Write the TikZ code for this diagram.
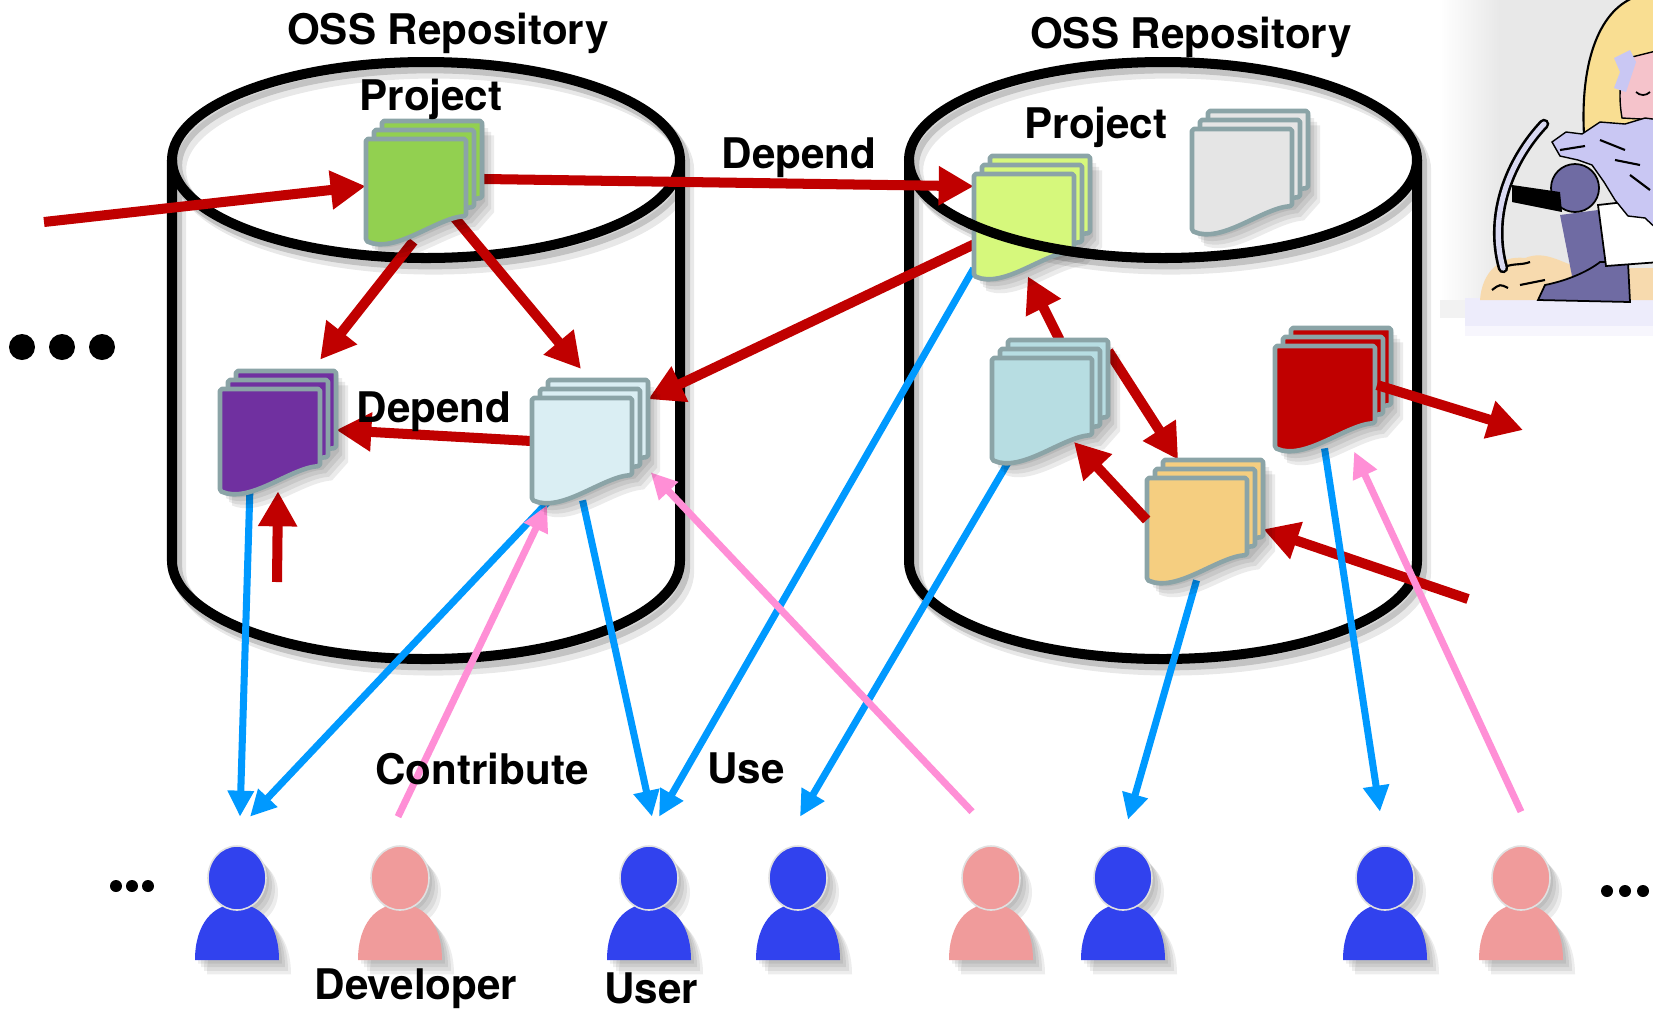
\documentclass[tikz,border=0pt]{standalone}
\usepackage{fontspec}
\setmainfont{TeX Gyre Heros}
\usetikzlibrary{arrows.meta,calc,fadings}

\definecolor{arrred}{HTML}{C00000}
\definecolor{arrblue}{HTML}{0099FF}
\definecolor{arrpink}{HTML}{FF8FD6}
\definecolor{pageedge}{HTML}{8BA4A7}
\definecolor{pgreen}{HTML}{92D050}
\definecolor{ppurple}{HTML}{7030A0}
\definecolor{pice}{HTML}{DAEEF3}
\definecolor{plime}{HTML}{D6F87C}
\definecolor{pgray}{HTML}{E5E5E5}
\definecolor{pteal}{HTML}{B7DDE2}
\definecolor{porange}{HTML}{F5CE80}
\definecolor{pred}{HTML}{C00000}
\definecolor{userblue}{HTML}{3142EE}
\definecolor{devpink}{HTML}{F09B9B}
\definecolor{sand}{HTML}{F7DAAE}
\definecolor{ground}{HTML}{D6D4F6}
\definecolor{sleeve}{HTML}{6F6BA3}
\definecolor{hood}{HTML}{F9DE92}
\definecolor{face}{HTML}{F5C3CB}
\definecolor{fur}{HTML}{C9C7F3}
\definecolor{pick}{HTML}{D9D9F2}

\tikzfading[name=fade in right, left color=transparent!100, right color=transparent!0]

\tikzset{
  redarr/.style={draw=arrred, line width=5.7pt, -{Triangle[length=0.7cm,width=0.74cm]}},
  bluearr/.style={draw=arrblue, line width=4pt, -{Triangle[length=0.52cm,width=0.5cm]}},
  pinkarr/.style={draw=arrpink, line width=4pt, -{Triangle[length=0.52cm,width=0.5cm]}},
  cyl/.style={draw=black, line width=5.7pt},
  tag/.style={font=\bfseries\fontsize{24}{28}\selectfont, inner sep=0pt},
  stackbox/.style={minimum width=2.32cm, minimum height=2.4cm, inner sep=0pt},
  userbox/.style={minimum width=1.72cm, minimum height=2.32cm, inner sep=0pt},
  page/.style={draw=pageedge, line width=2.6pt, line join=round, rounded corners=1pt},
  pics/pages/.style={code={
    \foreach \s in {3,6,9,12}
      \fill[black, opacity=0.08, shift={(\s,1.2*\s)}] (-58,60) -- (-58,-42) -- (-50,-42) -- (-50,-51) -- (-42,-51) -- (-42,-60) -- (58,-60) -- (58,17) -- (50,26) -- (42,35) .. controls (12,37) and (-28,73) .. (-58,60) -- cycle;
    \foreach \dx/\dy in {8/-9,0/0,-8/9}
      \filldraw[page, fill=#1, shift={(\dx,\dy)}] (-50,-51) -- (50,-51) -- (50,26) .. controls (20,28) and (-20,64) .. (-50,51) -- cycle;
  }},
  pics/person/.style={code={
    \foreach \s in {3,6,9,12}
      \fill[black, opacity=0.07, shift={(\s,1.2*\s)}] (-42,58) .. controls (-42,22) and (-24,2) .. (0,2) .. controls (24,2) and (42,22) .. (42,58) -- cycle (0,-24) ellipse [x radius=29, y radius=32];
    \fill[#1] (-42,58) .. controls (-42,22) and (-24,2) .. (0,2) .. controls (24,2) and (42,22) .. (42,58) -- cycle;
    \filldraw[fill=#1, draw=black!12, line width=0.9pt] (0,-24) ellipse [x radius=29, y radius=32];
  }},
}

\begin{document}
\begin{tikzpicture}[x=0.02cm, y=-0.02cm]
  \useasboundingbox (0,0) rectangle (1653,1009);

  \begin{scope}
    \clip (1430,0) rectangle (1653,360);
    \fill[black!9] (1500,0) rectangle (1653,300);
    \fill[black!9, path fading=fade in right] (1440,0) rectangle (1500,300);
    \fill[black!5] (1440,300) rectangle (1653,318);
    \fill[ground!45] (1465,298) rectangle (1653,326);
    \fill[ground!20] (1465,326) rectangle (1653,336);
    \fill[sand] (1480,300) .. controls (1482,272) and (1500,255) .. (1525,258) .. controls (1545,250) and (1560,262) .. (1580,268) -- (1653,268) -- (1653,300) -- cycle;
    \draw[black, line width=1.2pt] (1500,270) .. controls (1510,262) and (1520,266) .. (1530,262) (1520,285) -- (1545,280) (1492,290) .. controls (1500,284) .. (1508,288);
    \draw[black, line width=6pt, line cap=round] (1544,124) .. controls (1510,160) and (1488,215) .. (1503,268);
    \draw[pick, line width=3pt, line cap=round] (1544,124) .. controls (1510,160) and (1488,215) .. (1503,268);
    \fill[sleeve] (1560,215) -- (1598,210) -- (1612,272) -- (1572,276) -- cycle;
    \filldraw[fill=sleeve, draw=black, line width=1pt] (1538,300) -- (1545,285) .. controls (1570,280) and (1590,270) .. (1600,262) -- (1628,262) -- (1630,302) -- cycle;
    \filldraw[fill=white, draw=black, line width=1pt] (1598,205) -- (1660,198) -- (1660,262) -- (1606,266) -- cycle;
    \filldraw[fill=hood, draw=black, line width=1.2pt] (1584,135) .. controls (1580,60) and (1600,8) .. (1638,-4) -- (1660,-4) -- (1660,135) -- cycle;
    \filldraw[fill=face, draw=black, line width=0.8pt] (1628,58) -- (1660,50) -- (1660,120) -- (1622,118) .. controls (1618,95) and (1620,75) .. (1628,58);
    \fill[fur] (1614,58) -- (1630,50) -- (1636,62) -- (1626,92) -- (1614,88) -- (1620,72) -- cycle;
    \draw[black, line width=1pt] (1636,92) .. controls (1640,96) and (1646,96) .. (1650,92);
    \filldraw[fill=fur, draw=black, line width=0.8pt] (1552,142) -- (1566,132) -- (1582,134) -- (1600,122) -- (1625,124) -- (1645,118) -- (1660,120) -- (1660,232) -- (1645,218) -- (1628,216) -- (1615,200) -- (1604,182) -- (1592,165) -- (1578,160) -- (1560,156) -- cycle;
    \draw[black, line width=1.2pt] (1560,150) -- (1585,146) (1600,140) -- (1625,150) (1630,175) -- (1650,190) (1615,160) -- (1640,165);
    \filldraw[fill=sleeve, draw=black, line width=1pt] (1575,188) circle (24);
    \fill[black] (1512,185) -- (1560,192) -- (1562,212) -- (1512,202) -- cycle;
  \end{scope}

  \foreach \cx in {426,1163} {
    \foreach \s/\o in {4/0.16,8/0.09}
      \draw[line width=7pt, opacity=\o, shift={(\s,1.3*\s)}] (\cx-254,160) -- (\cx-254,561) arc[start angle=180, end angle=0, x radius=254, y radius=98] -- (\cx+254,160) (\cx+254,160) arc[start angle=0, end angle=360, x radius=254, y radius=98];
    \draw[cyl] (\cx-254,160) -- (\cx-254,561) arc[start angle=180, end angle=0, x radius=254, y radius=98] -- (\cx+254,160);
    \draw[cyl] (\cx,160) ellipse [x radius=254, y radius=98];
  }

  \node[stackbox] (grn) at (424,181) {};
  \node[stackbox] (prp) at (278,431) {};
  \node[stackbox] (ice) at (590,440) {};
  \node[stackbox] (lim) at (1032,216) {};
  \node[stackbox] (gry) at (1250,171) {};
  \node[stackbox] (tea) at (1050,400) {};
  \node[stackbox] (amb) at (1205,520) {};
  \node[stackbox] (crm) at (1333,388) {};

  \node[userbox] (u1) at (237,902) {};
  \node[userbox] (u2) at (649,902) {};
  \node[userbox] (u3) at (798,902) {};
  \node[userbox] (u4) at (1123,902) {};
  \node[userbox] (u5) at (1385,902) {};
  \node[userbox] (dev1) at (400,902) {};
  \node[userbox] (dev2) at (991,902) {};
  \node[userbox] (dev3) at (1521,902) {};

  \coordinate (in1) at (44,222);
  \coordinate (in2) at (277,582);
  \coordinate (in3) at (1468,599);
  \coordinate (out1) at (1523,430);

  \draw[redarr] (in1) -- (grn.185);
  \draw[redarr] (grn.2) -- (lim.153);
  \draw[redarr, shorten >=8pt] (grn.260) -- (prp.61);
  \draw[redarr, shorten >=8pt] (grn.center) -- (ice.north);
  \draw[redarr] (lim.206) -- (ice.35);
  \draw[redarr] (ice.181) -- (prp.1);
  \draw[redarr] (in2) -- (prp.south);
  \draw[redarr] (tea.81) -- (lim.266);
  \draw[redarr] (tea.40) -- (amb.114);
  \draw[redarr] (in3) -- (amb.-9);

  \draw[bluearr] (prp.245) -- ($(u1.north)+(3,-27)$);
  \draw[bluearr] (ice.236) -- ($(u1.north)+(13,-27)$);
  \draw[bluearr] (ice.263) -- ($(u2.north)+(3,-27)$);
  \draw[bluearr] (lim.222) -- ($(u2.north)+(10,-27)$);
  \draw[bluearr] (tea.236) -- ($(u3.north)+(2,-27)$);
  \draw[bluearr] (amb.262) -- ($(u4.north)+(5,-24)$);
  \draw[bluearr] (crm.262) -- ($(u5.north)+(-5,-32)$);
  \draw[pinkarr, shorten >=3pt] ($(dev1.north)+(-2,-27)$) -- (ice.236);
  \draw[pinkarr, shorten >=2pt] ($(dev2.north)+(-19,-32)$) -- (ice.-27);
  \draw[pinkarr, shorten >=2pt] ($(dev3.north)+(0,-32)$) -- (crm.-72);

  \pic at (grn) {pages=pgreen};
  \pic at (prp) {pages=ppurple};
  \pic at (ice) {pages=pice};
  \pic at (lim) {pages=plime};
  \pic at (gry) {pages=pgray};
  \pic at (tea) {pages=pteal};
  \pic at (amb) {pages=porange};
  \pic at (crm) {pages=pred};

  \draw[cyl] (1163,160) ++(140:254 and 98) arc[start angle=140, end angle=105, x radius=254, y radius=98];

  \draw[redarr] (amb.west) -- ($(tea)+(24,42)$);
  \draw[redarr] ($(crm)+(44,-3)$) -- (out1);

  \foreach \p in {u1,u2,u3,u4,u5}
    \pic at (\p) {person=userblue};
  \foreach \p in {dev1,dev2,dev3}
    \pic at (\p) {person=devpink};

  \node[tag] (oss1) at (448,33) {OSS Repository};
  \node[tag] (oss2) at (1191,37) {OSS Repository};
  \node[tag] (prj1) at (431,99) {Project};
  \node[tag] (prj2) at (1096,127) {Project};
  \node[tag] (dep1) at (799,158) {Depend};
  \node[tag] (dep2) at (434,412) {Depend};
  \node[tag] (contrib) at (482,769) {Contribute};
  \node[tag] (use) at (746,768) {Use};
  \node[tag] (devlbl) at (416,989) {Developer};
  \node[tag] (usrlbl) at (651,988) {User};

  \foreach \x in {22,62,102}
    \fill (\x,347) circle (13);
  \foreach \x in {116,132,148}
    \fill (\x,886) circle (6);
  \foreach \x in {1607,1625,1643}
    \fill (\x,891) circle (6);
\end{tikzpicture}
\end{document}
